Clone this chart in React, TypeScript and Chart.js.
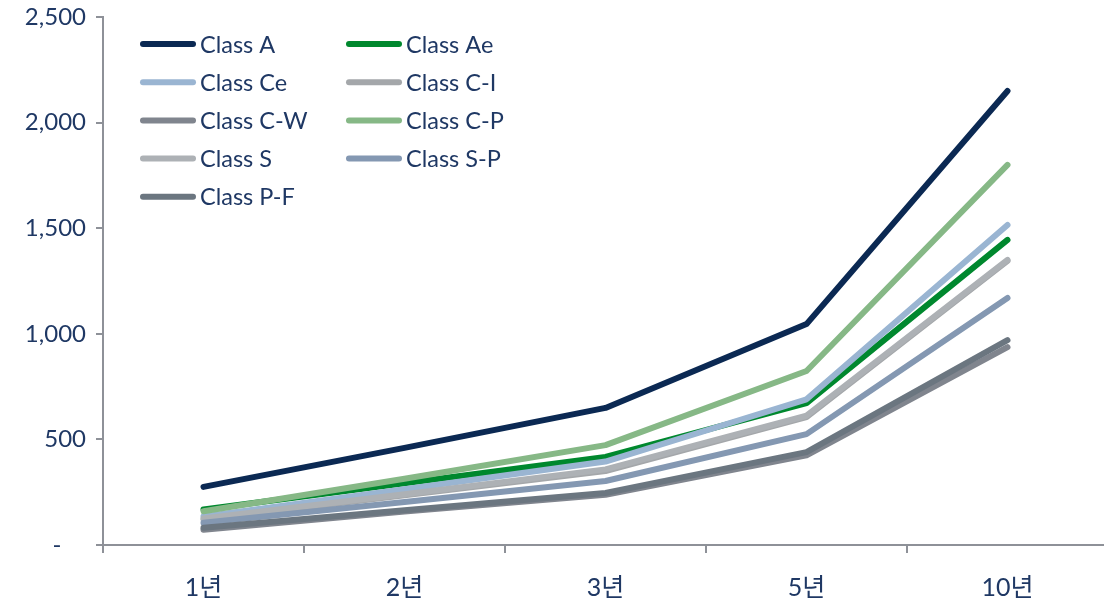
import { useEffect, useRef } from "react";
import { Chart, registerables } from "chart.js";

Chart.register(...registerables);

const categories = ["1년", "2년", "3년", "5년", "10년"];
const seriesNames = [
  "Class A",
  "Class Ae",
  "Class Ce",
  "Class C-I",
  "Class C-W",
  "Class C-P",
  "Class S",
  "Class S-P",
  "Class P-F",
];
const classA = [275, 460, 649, 1046, 2150];
const classAe = [168, 292, 417, 672, 1445];
const classCe = [135, 264, 395, 690, 1515];
const classCI = [120, 235, 350, 606, 1345];
const classCW = [72, 158, 238, 425, 937];
const classCP = [160, 314, 473, 824, 1800];
const classS = [125, 240, 358, 612, 1350];
const classSP = [105, 204, 303, 525, 1170];
const classPF = [82, 164, 246, 440, 970];
const seriesValues = [classA, classAe, classCe, classCI, classCW, classCP, classS, classSP, classPF];
const yTicks = [0, 500, 1000, 1500, 2000, 2500];

const seriesColors = [
  "#0B2953",
  "#00882E",
  "#9AB5D2",
  "#A4A7AA",
  "#80858E",
  "#86B886",
  "#ADB1B5",
  "#8498B2",
  "#6B7680",
];

const NAVY = "#1F3864";
const AXIS = "#8E9198";
const FONT = "Lato, 'Noto Sans CJK KR', sans-serif";

const legendPlugin = {
  id: "customLegend",
  afterDatasetsDraw(chart: any) {
    const ctx = chart.ctx;
    ctx.save();
    chart.data.datasets.forEach((ds: any, i: number) => {
      const col = i % 2;
      const row = Math.floor(i / 2);
      const x0 = col === 0 ? 140 : 346;
      const y = 44 + row * 38.2;
      ctx.strokeStyle = ds.borderColor;
      ctx.lineWidth = 6;
      ctx.lineCap = "round";
      ctx.beginPath();
      ctx.moveTo(x0 + 3, y);
      ctx.lineTo(x0 + 53, y);
      ctx.stroke();
      ctx.fillStyle = NAVY;
      ctx.font = "23.5px " + FONT;
      ctx.textBaseline = "middle";
      ctx.textAlign = "left";
      ctx.fillText(ds.label, x0 + 60, y + 1);
    });
    ctx.restore();
  },
};

export default function App() {
  const ref = useRef<HTMLCanvasElement | null>(null);

  useEffect(() => {
    document.body.style.margin = "0";
    if (!ref.current) return;
    const chart = new Chart(ref.current, {
      type: "line",
      data: {
        labels: categories,
        datasets: seriesNames.map((name, i) => ({
          label: name,
          data: seriesValues[i],
          borderColor: seriesColors[i],
          backgroundColor: seriesColors[i],
          borderWidth: 6,
          pointRadius: 0,
          tension: 0,
          borderCapStyle: "round",
          borderJoinStyle: "round",
          order: seriesNames.length - i,
          clip: false,
        })),
      },
      options: {
        responsive: true,
        maintainAspectRatio: false,
        animation: false,
        layout: { padding: { top: 17, right: 22, left: 0, bottom: 0 } },
        plugins: {
          legend: { display: false },
          tooltip: { enabled: false },
        },
        scales: {
          x: {
            type: "category",
            offset: true,
            grid: {
              offset: true,
              drawOnChartArea: false,
              color: AXIS,
              lineWidth: 2,
              tickLength: 8,
            },
            border: { color: AXIS, width: 2 },
            ticks: {
              color: NAVY,
              font: { family: FONT, size: 25 },
              padding: 20,
              maxRotation: 0,
            },
            afterFit: (s: any) => {
              s.height = 63;
              s.paddingLeft = 0;
              s.paddingRight = 0;
            },
          },
          y: {
            min: 0,
            max: 2500,
            afterBuildTicks: (s: any) => {
              s.ticks = yTicks.map((v) => ({ value: v }));
            },
            ticks: {
              color: NAVY,
              font: { family: FONT, size: 24 },
              padding: 10,
              callback: (v: any) => (Number(v) === 0 ? "-    " : Number(v).toLocaleString("en-US")),
            },
            grid: {
              drawOnChartArea: false,
              color: AXIS,
              lineWidth: 2,
              tickLength: 7,
            },
            border: { color: AXIS, width: 2 },
            afterFit: (s: any) => {
              s.width = 103;
              s.paddingTop = 0;
              s.paddingBottom = 0;
            },
          },
        },
      },
      plugins: [legendPlugin],
    });
    return () => chart.destroy();
  }, []);

  return (
    <div style={{ position: "fixed", left: 0, top: 0, width: 1104, height: 608, overflow: "hidden", background: "#fff" }}>
      <div style={{ width: 1130, height: 608 }}>
        <canvas ref={ref} />
      </div>
    </div>
  );
}
